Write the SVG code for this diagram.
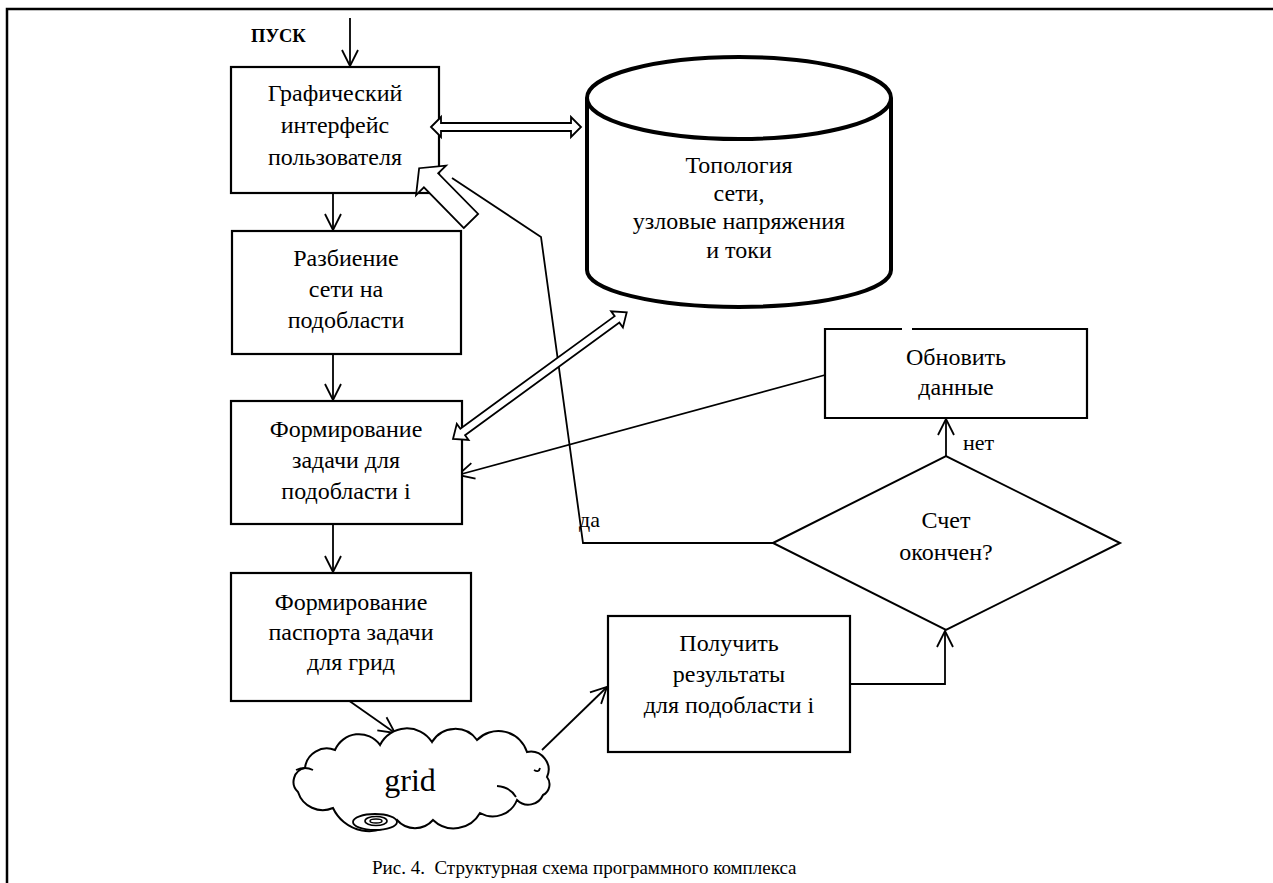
<svg xmlns="http://www.w3.org/2000/svg" width="1273" height="883" viewBox="0 0 1273 883">
<style>
text{font-family:"Liberation Serif","Times New Roman",serif;font-size:24px;fill:#000;text-anchor:middle}
.box{fill:#fff;stroke:#000;stroke-width:2.2}
.ln{fill:none;stroke:#000;stroke-width:1.8}
.hol{fill:#fff;stroke:#000;stroke-width:1.8;stroke-linejoin:miter}
.lbl{font-size:22px;text-anchor:start}
</style>
<defs>
<marker id="ah" markerUnits="userSpaceOnUse" markerWidth="22" markerHeight="22" viewBox="-19 -11 22 22" refX="0" refY="0" orient="auto">
<path d="M-16,-8 L0,0 L-16,8" fill="none" stroke="#000" stroke-width="1.8"/>
</marker>
</defs>
<rect width="1273" height="883" fill="#fff"/>
<path d="M7,883 V9 H1273" fill="none" stroke="#000" stroke-width="2.5"/>

<g id="connectors">
<line class="ln" x1="350" y1="18" x2="350" y2="66" marker-end="url(#ah)"/>
<line class="ln" x1="333" y1="194" x2="333" y2="230" marker-end="url(#ah)"/>
<line class="ln" x1="333" y1="355" x2="333" y2="400" marker-end="url(#ah)"/>
<line class="ln" x1="333" y1="524" x2="333" y2="572" marker-end="url(#ah)"/>
<line class="ln" x1="348" y1="700" x2="395" y2="733" marker-end="url(#ah)"/>
<line class="ln" x1="542" y1="750" x2="607" y2="687" marker-end="url(#ah)"/>
<polyline class="ln" points="850,684 945,684 945,631" marker-end="url(#ah)"/>
<line class="ln" x1="946" y1="456" x2="946" y2="419" marker-end="url(#ah)"/>
<line class="ln" x1="825" y1="375" x2="458" y2="475" marker-end="url(#ah)"/>
<polyline class="ln" points="773,543 583,543 541,237 452,178"/>
<text class="lbl" x="579" y="527">да</text>
<text class="lbl" x="963" y="450">нет</text>
</g>

<g id="cylinder">
<path d="M587,98 V270 A152,37 0 0 0 891,270 V98" fill="#fff" stroke="#000" stroke-width="4"/>
<ellipse cx="739" cy="98" rx="152" ry="41" fill="#fff" stroke="#000" stroke-width="4"/>
<text x="739" y="173">Топология</text>
<text x="739" y="201">сети,</text>
<text x="739" y="229">узловые напряжения</text>
<text x="739" y="258">и токи</text>
</g>

<g id="gui">
<rect class="box" x="231" y="67" width="208" height="126"/>
<text x="335" y="101">Графический</text>
<text x="335" y="133">интерфейс</text>
<text x="335" y="165">пользователя</text>
</g>
<text x="251" y="42" style="font-size:18.5px;font-weight:bold;text-anchor:start">ПУСК</text>

<g id="split">
<rect class="box" x="232" y="231" width="229" height="123"/>
<text x="346" y="266">Разбиение</text>
<text x="346" y="297">сети на</text>
<text x="346" y="328">подобласти</text>
</g>

<g id="task">
<rect class="box" x="231" y="401" width="231" height="123"/>
<text x="346" y="437">Формирование</text>
<text x="346" y="468">задачи для</text>
<text x="346" y="499">подобласти i</text>
</g>

<g id="passport">
<rect class="box" x="231" y="573" width="240" height="128"/>
<text x="351" y="610">Формирование</text>
<text x="351" y="640">паспорта задачи</text>
<text x="351" y="670">для грид</text>
</g>

<g id="results">
<rect class="box" x="608" y="616" width="242" height="136"/>
<text x="729" y="651">Получить</text>
<text x="729" y="682">результаты</text>
<text x="729" y="713">для подобласти i</text>
</g>

<g id="update">
<path d="M902,329 H825 V418 H1087 V329 H912" fill="#fff" stroke="#000" stroke-width="2.2"/>
<text x="956" y="365">Обновить</text>
<text x="956" y="395">данные</text>
</g>

<g id="decision">
<polygon points="773,543 946,456 1120,543 946,630" fill="#fff" stroke="#000" stroke-width="2"/>
<text x="946" y="528">Счет</text>
<text x="946" y="560">окончен?</text>
</g>

<g id="grid">
<path d="M298,792 A14,14 0 0 1 305,768 A22,22 0 0 1 335,750 A26,26 0 0 1 380,745 A30,30 0 0 1 432,742 A27,27 0 0 1 477,740 A30,30 0 0 1 527,752 A18,18 0 0 1 547,777 A12,12 0 0 1 543,795 A16,16 0 0 1 517,800 A26,26 0 0 1 480,813 A30,30 0 0 1 433,820 A24,24 0 0 1 397,820 A40,40 0 0 1 333,808 A26,26 0 0 1 298,792 Z" fill="#fff" stroke="#000" stroke-width="2"/>
<path d="M296,770 Q305,766 313,770" class="ln"/>
<path d="M497,786 Q510,787 516,797" class="ln"/>
<path d="M534,770 Q539,773 540,768" class="ln"/>
<ellipse cx="375" cy="822" rx="22" ry="8" fill="#fff" stroke="#000" stroke-width="1.8"/>
<ellipse cx="376" cy="821" rx="11" ry="4.5" fill="#fff" stroke="#000" stroke-width="1.6"/>
<ellipse cx="376" cy="821" rx="6" ry="2" fill="none" stroke="#000" stroke-width="1.4"/>
<text x="410" y="791" style="font-size:32px">grid</text>
</g>

<g id="hollow-arrows">
<polygon class="hol" points="431,127 441,117 441,123 571,123 571,117 581,127 571,137 571,131 441,131 441,137"/>
<polygon class="hol" transform="translate(453,439) rotate(-36.1)" points="0,0 12,-10 12,-4 203,-4 203,-10 215,0 203,10 203,4 12,4 12,10"/>
<polygon class="hol" transform="translate(471,221) rotate(-134.5)" points="0,-10 57,-10 57,-21 74,0 57,21 57,10 0,10"/>
</g>

<text x="372" y="874" style="text-anchor:start;font-size:19px" xml:space="preserve">Рис. 4.  Структурная схема программного комплекса</text>
</svg>
